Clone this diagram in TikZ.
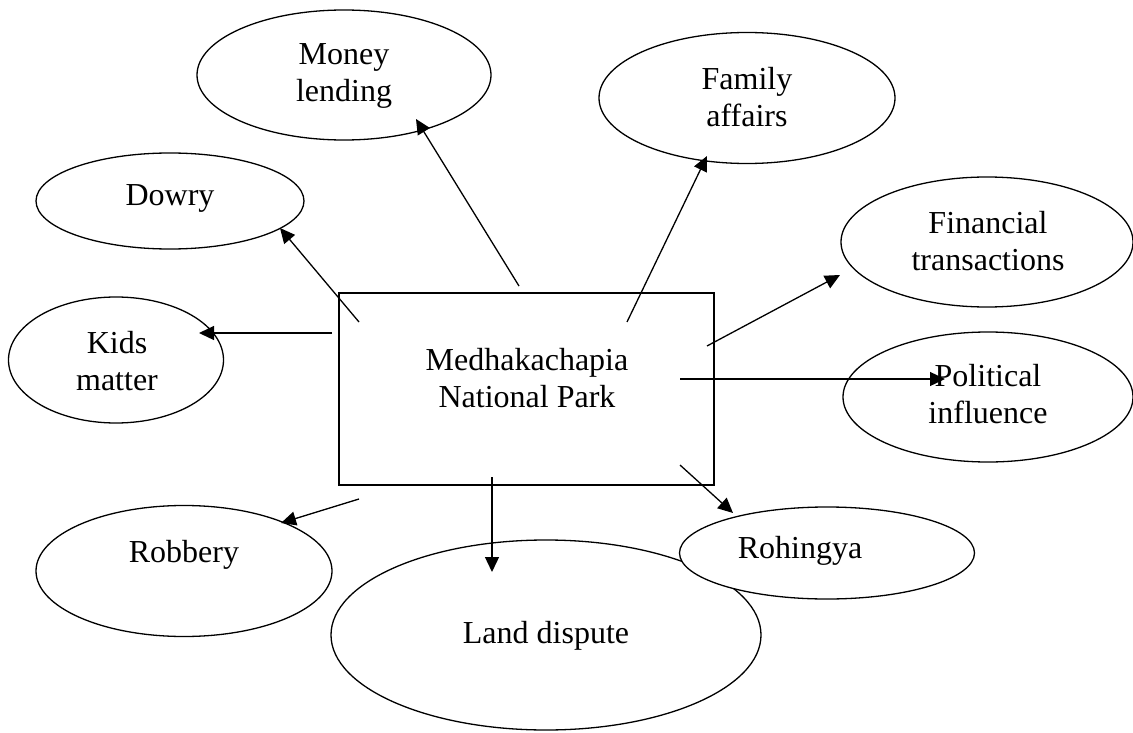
\documentclass[tikz,border=0pt]{standalone}
\usepackage{fontspec}
\setmainfont{Liberation Serif}
\usetikzlibrary{shapes.geometric,arrows.meta}
\tikzset{
  bubble/.style={draw, ellipse, line width=1.3pt, inner sep=0pt},
  txt/.style={font=\fontsize{32}{37}\selectfont, align=center, anchor=base, inner sep=0pt},
  link/.style={line width=1.3pt, -{Triangle[length=15pt,width=14pt]}}
}
\begin{document}
\begin{tikzpicture}[x=1pt,y=-1pt]
\useasboundingbox (0,0) rectangle (1133,733);
% central box
\node[draw, line width=1.3pt, minimum width=375pt, minimum height=192pt, inner sep=0pt] (park) at (526.5,389) {};
\node[txt] (parkt) at (527,407) {Medhakachapia\\National Park};
% ellipses
\node[bubble, minimum width=294pt, minimum height=130pt] (money) at (344,75) {};
\node[txt] at (344,102) {Money\\lending};
\node[bubble, minimum width=296pt, minimum height=131pt] (family) at (747,98) {};
\node[txt] at (747,127) {Family\\affairs};
\node[bubble, minimum width=268pt, minimum height=96pt] (dowry) at (170,201) {};
\node[txt] at (170,205) {Dowry};
\node[bubble, minimum width=215pt, minimum height=126pt] (kids) at (116,360) {};
\node[txt] at (117,390) {Kids\\matter};
\node[bubble, minimum width=292pt, minimum height=130pt] (fin) at (987,242) {};
\node[txt] at (988,270) {Financial\\transactions};
\node[bubble, minimum width=290pt, minimum height=130pt] (pol) at (988,397) {};
\node[txt] at (988,423) {Political\\influence};
\node[bubble, minimum width=296pt, minimum height=131pt] (rob) at (184,571) {};
\node[txt] at (184,562) {Robbery};
\node[bubble, minimum width=430pt, minimum height=190pt] (land) at (546,635) {};
\node[txt] at (546,643) {Land dispute};
\node[bubble, minimum width=295pt, minimum height=92pt, fill=white] (roh) at (827,553) {};
\node[txt] at (800,558) {Rohingya};
% connector end points
\coordinate (sMoney) at (519,286);   \coordinate (eMoney) at (416,119);
\coordinate (sFam) at (627,322);     \coordinate (eFam) at (707,156);
\coordinate (sDow) at (359,322);     \coordinate (eDow) at (280,228);
\coordinate (sKid) at (332,333);     \coordinate (eKid) at (199,333);
\coordinate (sFin) at (707,346);     \coordinate (eFin) at (840,275);
\coordinate (sPol) at (680,379);     \coordinate (ePol) at (945,379);
\coordinate (sRoh) at (680,465);     \coordinate (eRoh) at (733,513);
\coordinate (sLand) at (492,477);    \coordinate (eLand) at (492,572);
\coordinate (sRob) at (359,499);     \coordinate (eRob) at (281,523);
% connectors
\draw[link] (sMoney) -- (eMoney);
\draw[link] (sFam) -- (eFam);
\draw[link] (sDow) -- (eDow);
\draw[link] (sKid) -- (eKid);
\draw[link] (sFin) -- (eFin);
\draw[link] (sPol) -- (ePol);
\draw[link] (sRoh) -- (eRoh);
\draw[link] (sLand) -- (eLand);
\draw[link] (sRob) -- (eRob);
\end{tikzpicture}
\end{document}
